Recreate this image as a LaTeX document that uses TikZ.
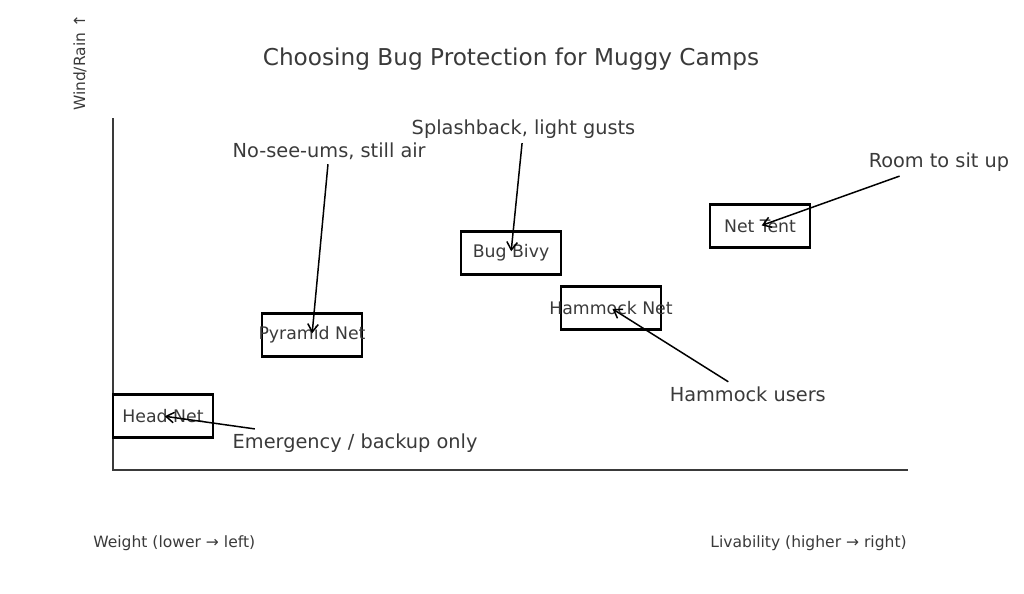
\documentclass[tikz,border=0pt]{standalone}
\usepackage{fontspec}
\setmainfont{DejaVu Sans}
\usepackage{tikz}
\usetikzlibrary{arrows.meta,positioning,calc}
\definecolor{inkgray}{RGB}{58,58,58}
\tikzset{netbox/.style={draw=black,line width=1.4pt,minimum width=2cm,minimum height=0.86cm,inner sep=0pt},
boxtext/.style={text=inkgray,font=\fontsize{9.85}{11}\selectfont,yshift=0pt},
note/.style={text=inkgray,font=\fontsize{11}{13}\selectfont,anchor=west,inner sep=2.5pt},
pointer/.style={-{Straight Barb[length=4.5pt,width=6pt]},line width=0.85pt,shorten >=1pt}}

\begin{document}
\begin{tikzpicture}[x=0.02cm,y=-0.02cm]
\useasboundingbox (0,0) rectangle (1024,593);
\node (title) at (511,59)[text=inkgray,font=\fontsize{13.2}{15}\selectfont] {Choosing Bug Protection for Muggy Camps};
\coordinate (origin) at (113,470);
\coordinate (ytop) at (113,118);
\coordinate (xend) at (908,470);
\draw[inkgray,line width=0.6pt] (ytop) -- (origin) -- (xend);
\node (ylab) at (80,63)[rotate=90,text=inkgray,font=\fontsize{8.8}{10}\selectfont] {Wind/Rain ↑};
\node (xleft) at (93,543)[anchor=west,inner sep=0pt,text=inkgray,font=\fontsize{8.85}{10}\selectfont] {Weight (lower → left)};
\node (xright) at (907,543)[anchor=east,inner sep=0pt,text=inkgray,font=\fontsize{8.85}{10}\selectfont] {Livability (higher → right)};

\node (headnet) at (163,416)[netbox] {};
\node (pyramid) at (312,335)[netbox] {};
\node (bivy) at (511,253)[netbox] {};
\node (hammock) at (611,308)[netbox] {};
\node (tent) at (760,226)[netbox] {};
\node (headlab) at (headnet.center)[boxtext] {Head Net};
\node (pyramidlab) at (pyramid.center)[boxtext] {Pyramid Net};
\node (bivylab) at (bivy.center)[boxtext] {Bug Bivy};
\node (hammocklab) at (hammock.center)[boxtext] {Hammock Net};
\node (tentlab) at (tent.center)[boxtext] {Net Tent};

\node (emergency) at (228,443)[note] {Emergency / backup only};
\node (noseeums) at (228,151)[note] {No-see-ums, still air};
\node (splash) at (407,129)[note] {Splashback, light gusts};
\node (situp) at (864,162)[note] {Room to sit up};
\node (hamusers) at (665,394)[note] {Hammock users};

\draw[pointer] (emergency) -- (headnet.center);
\draw[pointer] (noseeums) -- (pyramid.center);
\draw[pointer] (splash) -- (bivy.center);
\draw[pointer] (situp) -- (tent.center);
\draw[pointer] (hamusers) -- (hammock.center);
\end{tikzpicture}
\end{document}
